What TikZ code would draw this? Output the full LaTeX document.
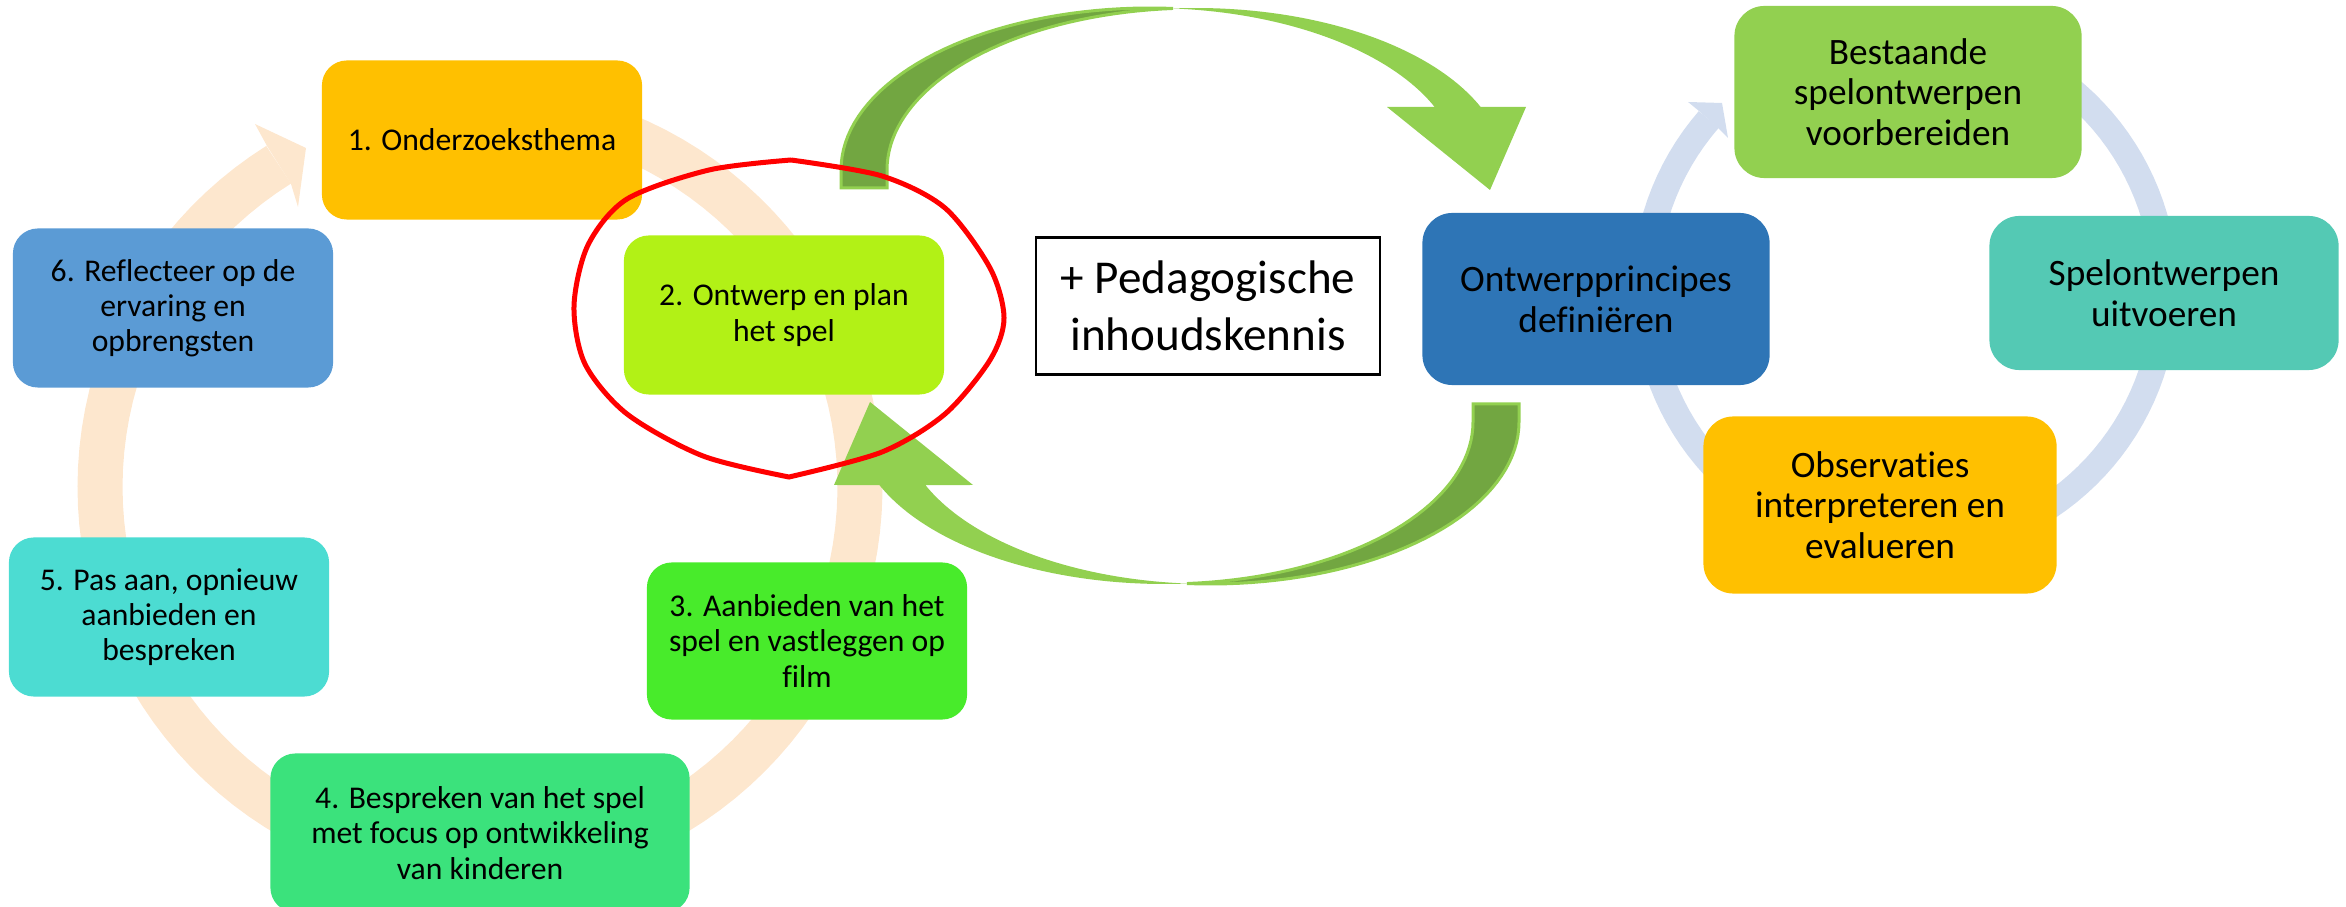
\documentclass[tikz,border=0pt]{standalone}
\usepackage{fontspec}
\setmainfont[Ligatures=NoCommon]{Carlito}
\usepackage{color}

\definecolor{peach}{HTML}{FDE7CE}
\definecolor{greyblue}{HTML}{D2DDEF}
\definecolor{gold}{HTML}{FFC000}
\definecolor{lime}{HTML}{B2F116}
\definecolor{brightgreen}{HTML}{48EB2B}
\definecolor{mintgreen}{HTML}{3BE27C}
\definecolor{turquoise}{HTML}{4CDCD2}
\definecolor{skyblue}{HTML}{5B9BD5}
\definecolor{deepblue}{HTML}{2E75B6}
\definecolor{leafgreen}{HTML}{92D050}
\definecolor{mossgreen}{HTML}{72A641}
\definecolor{teal}{HTML}{54C9B4}

\begin{document}
\begin{tikzpicture}[x=0.01cm,y=-0.01cm,
  stepbox/.style={rounded corners=0.25cm,align=center,inner sep=2pt,
    minimum width=3.2cm,minimum height=1.59cm,font=\fontsize{9pt}{10pt}\selectfont},
  phasebox/.style={rounded corners=0.3cm,align=center,inner sep=2pt,
    minimum width=3.47cm,minimum height=1.72cm,font=\fontsize{10.6pt}{11.6pt}\selectfont}]
\useasboundingbox (0,0) rectangle (2346,907);

% cycle ring left
\draw[peach,line width=0.45cm] plot[domain=-90:238,samples=120] ({480+380*cos(\x)},{487+380*sin(\x)});
\fill[peach] (255,124) -- (306,148) -- (298,207) -- (291,184) -- (267,146) -- cycle;

\node[stepbox,fill=gold] (s1) at (482,140) {1. Onderzoeksthema};
\node[stepbox,fill=lime] (s2) at (784,315) {2. Ontwerp en plan\\het spel};
\node[stepbox,fill=brightgreen,minimum height=1.57cm] (s3) at (807,641) {3. Aanbieden van het\\spel en vastleggen op\\film};
\node[stepbox,fill=mintgreen,minimum width=4.19cm] (s4) at (480,833) {4. Bespreken van het spel\\met focus op ontwikkeling\\van kinderen};
\node[stepbox,fill=turquoise] (s5) at (169,617) {5. Pas aan, opnieuw\\aanbieden en\\bespreken};
\node[stepbox,fill=skyblue] (s6) at (173,308) {6. Reflecteer op de\\ervaring en\\opbrengsten};

% cycle ring right
\draw[greyblue,line width=0.26cm] plot[domain=-100:221,samples=120] ({1905+260*cos(\x)},{290+260*sin(\x)});
\fill[greyblue] (1688,102) -- (1722,103) -- (1728,138) -- (1718,128) -- (1699,111) -- cycle;

\node[phasebox,fill=deepblue] (op) at (1596,299) {Ontwerpprincipes\\definiëren};
\node[phasebox,fill=leafgreen] (bs) at (1908,92) {Bestaande\\spelontwerpen\\voorbereiden};
\node[phasebox,fill=teal,minimum width=3.49cm,minimum height=1.54cm] (su) at (2164,293) {Spelontwerpen\\uitvoeren};
\node[phasebox,fill=gold,minimum width=3.53cm,minimum height=1.77cm] (oi) at (1880,505) {Observaties\\interpreteren en\\evalueren};

% big green arrows
\begin{scope}
\filldraw[fill=mossgreen,draw=leafgreen,line width=0.03cm] (841,188) -- plot[domain=180:274.3,samples=40] ({1150+309*cos(\x)},{170+162*sin(\x)})
  -- plot[domain=265.7:180,samples=40] ({1196+309*cos(\x)},{170+162*sin(\x)}) -- (887,188) -- cycle;
\fill[leafgreen] plot[domain=265.7:337.1,samples=40] ({1196+309*cos(\x)},{170+162*sin(\x)})
  -- (1526,107) -- (1490,190) -- (1387,107) -- plot[domain=337.1:274.3,samples=40] ({1150+309*cos(\x)},{170+162*sin(\x)}) -- cycle;
\end{scope}
\begin{scope}[rotate around={180:(1180,296)}]
\filldraw[fill=mossgreen,draw=leafgreen,line width=0.03cm] (841,188) -- plot[domain=180:274.3,samples=40] ({1150+309*cos(\x)},{170+162*sin(\x)})
  -- plot[domain=265.7:180,samples=40] ({1196+309*cos(\x)},{170+162*sin(\x)}) -- (887,188) -- cycle;
\fill[leafgreen] plot[domain=265.7:337.1,samples=40] ({1196+309*cos(\x)},{170+162*sin(\x)})
  -- (1526,107) -- (1490,190) -- (1387,107) -- plot[domain=337.1:274.3,samples=40] ({1150+309*cos(\x)},{170+162*sin(\x)}) -- cycle;
\end{scope}

\node[draw=black,line width=0.6pt,fill=white,align=center,minimum width=3.44cm,minimum height=1.37cm,
  font=\fontsize{13.4pt}{16.3pt}\selectfont] (pk) at (1208,306) {+ Pedagogische\\inhoudskennis};

% highlight round step 2
\draw[red,line width=0.05cm] plot[smooth] coordinates {(791,160) (709,170) (627,199) (588,245) (574,306) (585,364) (627,414) (703,456) (789,477)}
  -- plot[smooth] coordinates {(789,477) (882,452) (945,414) (990,360) (1004,318) (990,268) (945,208) (882,176) (791,160)};
\end{tikzpicture}
\end{document}
